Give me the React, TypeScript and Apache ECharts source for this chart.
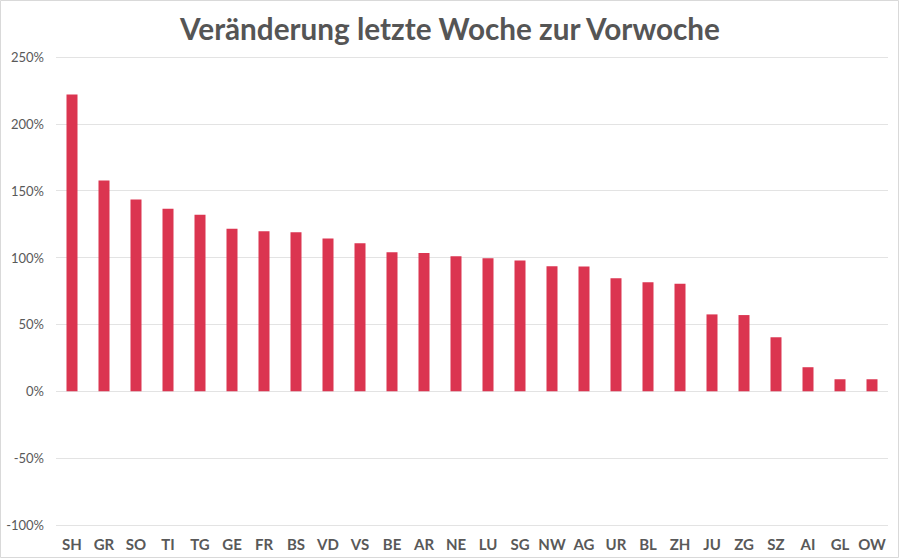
import React, { useEffect, useRef } from "react";
import * as echarts from "echarts";

const categories = ["SH","GR","SO","TI","TG","GE","FR","BS","VD","VS","BE","AR","NE","LU","SG","NW","AG","UR","BL","ZH","JU","ZG","SZ","AI","GL","OW"];
const values = [222, 157.7, 143.5, 136.5, 132, 121.6, 119.6, 119, 114.2, 110.8, 103.9, 103.4, 100.9, 99.4, 97.9, 93.6, 93.4, 84.5, 81.5, 80.5, 57.5, 57, 40.4, 18, 9, 9];
const yTicks = [-100, -50, 0, 50, 100, 150, 200, 250];

export default function App() {
  const ref = useRef<HTMLDivElement>(null);
  useEffect(() => {
    if (!ref.current) return;
    const chart = echarts.init(ref.current, null, { renderer: "svg" });
    chart.setOption({
      animation: false,
      backgroundColor: "#ffffff",
      title: {
        text: "Veränderung letzte Woche zur Vorwoche",
        left: "center",
        top: 8,
        textStyle: { fontFamily: "Lato", fontWeight: "bold", fontSize: 29.7, color: "#555555" },
      },
      grid: { left: 56, right: 12, top: 57, bottom: 34, containLabel: false },
      xAxis: {
        type: "category",
        data: categories,
        axisLine: { show: false },
        axisTick: { show: false },
        axisLabel: { fontFamily: "Lato", fontWeight: "bold", fontSize: 15, color: "#595959", margin: 11, interval: 0 },
      },
      yAxis: {
        type: "value",
        min: yTicks[0],
        max: yTicks[yTicks.length - 1],
        interval: 50,
        axisLine: { show: false },
        axisTick: { show: false },
        splitLine: { lineStyle: { color: "#e3e3e3", width: 1 } },
        axisLabel: { fontFamily: "Lato", fontSize: 13, color: "#595959", margin: 12, formatter: (v: number) => v + "%" },
      },
      series: [
        {
          type: "bar",
          data: values,
          barWidth: 11,
          itemStyle: { color: "#db3550" },
        },
      ],
      graphic: [
        {
          type: "rect",
          shape: { x: 0.5, y: 0.5, width: 898, height: 557 },
          style: { fill: "none", stroke: "#d9d9d9", lineWidth: 1 },
          silent: true,
        },
      ],
    });
    return () => chart.dispose();
  }, []);
  return <div ref={ref} style={{ width: 900, height: 559, position: "absolute", left: 0, top: 0 }} />;
}
